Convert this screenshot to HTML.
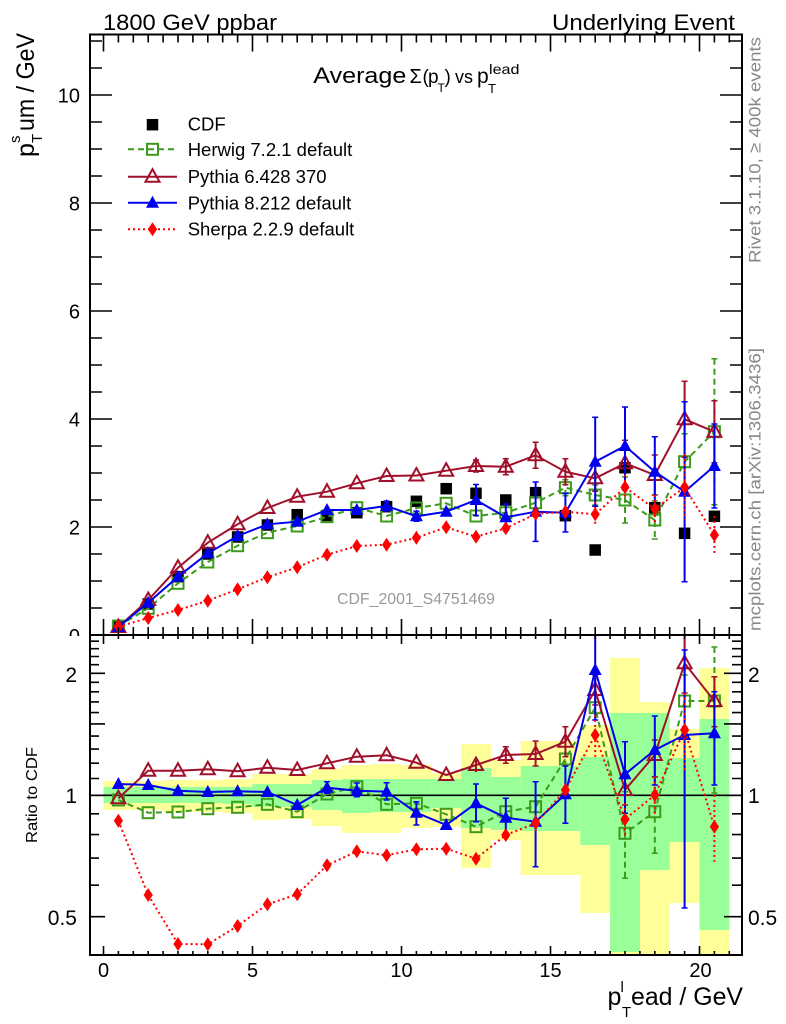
<!DOCTYPE html>
<html><head><meta charset="utf-8"><style>
html,body{margin:0;padding:0;background:#fff;}
svg{display:block;font-family:"Liberation Sans",Arial,Helvetica,sans-serif;}
</style></head><body>
<svg width="786" height="1024" viewBox="0 0 786 1024" xmlns="http://www.w3.org/2000/svg">
<defs>
<g id="mC"><rect x="-5.75" y="-5.75" width="11.5" height="11.5" fill="#000"/></g>
<g id="mH"><rect x="-5.5" y="-5.5" width="11" height="11" fill="none" stroke="#3c9a1c" stroke-width="2"/></g>
<g id="mP6"><polygon points="0,-7.5 7,5 -7,5" fill="none" stroke="#a0102a" stroke-width="2" stroke-linejoin="miter"/></g>
<g id="mP8"><polygon points="0,-7 6.5,5 -6.5,5" fill="#0000ee"/></g>
<g id="mS"><polygon points="0,-7 4.6,0 0,7 -4.6,0" fill="#ff0000"/></g>
<clipPath id="cMain"><rect x="90" y="34.5" width="652" height="600.5"/></clipPath>
<clipPath id="cRat"><rect x="90" y="635" width="652" height="320"/></clipPath>
</defs>
<rect x="0" y="0" width="786" height="1024" fill="#fff"/>

<text x="103" y="30" font-size="22" textLength="174" lengthAdjust="spacingAndGlyphs">1800 GeV ppbar</text>
<text x="552" y="30" font-size="22" textLength="183" lengthAdjust="spacingAndGlyphs">Underlying Event</text>

<g font-size="20" text-anchor="end">
<text x="80" y="102.5">10</text>
<text x="80" y="210.5">8</text>
<text x="80" y="318.5">6</text>
<text x="80" y="426.5">4</text>
<text x="80" y="534.5">2</text>
<text x="80" y="643">0</text>
</g>

<g transform="translate(34,157) rotate(-90)">
<text x="0" y="0" font-size="25">p</text>
<text x="14" y="8" font-size="15">T</text>
<text x="14" y="-14" font-size="15">s</text>
<text x="26" y="0" font-size="25" textLength="98" lengthAdjust="spacingAndGlyphs">um / GeV</text>
</g>

<g fill="#888" font-size="17">
<text transform="translate(760.5,263) rotate(-90)" x="0" y="0" textLength="226" lengthAdjust="spacingAndGlyphs">Rivet 3.1.10, ≥ 400k events</text>
<text transform="translate(760.5,631) rotate(-90)" x="0" y="0" textLength="283" lengthAdjust="spacingAndGlyphs">mcplots.cern.ch [arXiv:1306.3436]</text>
</g>

<text x="313.3" y="83" font-size="22" textLength="93" lengthAdjust="spacingAndGlyphs">Average</text>
<text x="409.5" y="83" font-size="20">Σ</text>
<text x="422.5" y="83" font-size="19">(</text>
<text x="428" y="83" font-size="19">p</text>
<text x="437.5" y="92" font-size="12">T</text>
<text x="444.5" y="83" font-size="19">)</text>
<text x="455" y="83" font-size="18">vs</text>
<text x="477" y="83" font-size="21">p</text>
<text x="488" y="93" font-size="13">T</text>
<text x="489" y="74" font-size="14" textLength="30.5" lengthAdjust="spacingAndGlyphs">lead</text>

<g font-size="18.5">
<text x="187.7" y="130.5">CDF</text>
<text x="187.7" y="156">Herwig 7.2.1 default</text>
<text x="187.7" y="183">Pythia 6.428 370</text>
<text x="187.7" y="209.5">Pythia 8.212 default</text>
<text x="187.7" y="235.5">Sherpa 2.2.9 default</text>
</g>
<use href="#mC" x="152.5" y="124.7"/>
<line x1="128" y1="149.3" x2="177" y2="149.3" stroke="#3c9a1c" stroke-width="2" stroke-dasharray="6,4"/>
<use href="#mH" x="152.5" y="149.3"/>
<line x1="128" y1="176.7" x2="177" y2="176.7" stroke="#a0102a" stroke-width="2"/>
<use href="#mP6" x="152.5" y="176.7"/>
<line x1="128" y1="202.7" x2="177" y2="202.7" stroke="#0000ee" stroke-width="2"/>
<use href="#mP8" x="152.5" y="202.7"/>
<line x1="128" y1="229.3" x2="177" y2="229.3" stroke="#ff0000" stroke-width="2" stroke-dasharray="2,3"/>
<use href="#mS" x="152.5" y="229.3"/>

<text x="337" y="604" font-size="16" fill="#999" textLength="158" lengthAdjust="spacingAndGlyphs">CDF_2001_S4751469</text>

<g clip-path="url(#cMain)">
<g>
<use href="#mC" x="118.4" y="627"/><use href="#mC" x="148.2" y="604"/><use href="#mC" x="178" y="576.7"/><use href="#mC" x="207.8" y="554"/><use href="#mC" x="237.6" y="537"/><use href="#mC" x="267.4" y="525"/><use href="#mC" x="297.2" y="514.7"/><use href="#mC" x="327" y="515.5"/><use href="#mC" x="356.8" y="512.7"/><use href="#mC" x="386.6" y="506.7"/><use href="#mC" x="416.4" y="501.3"/><use href="#mC" x="446.2" y="488.7"/><use href="#mC" x="476" y="493.3"/><use href="#mC" x="505.8" y="500"/><use href="#mC" x="535.6" y="492.7"/><use href="#mC" x="565.4" y="515.7"/><use href="#mC" x="595.2" y="550"/><use href="#mC" x="625" y="467.7"/><use href="#mC" x="654.8" y="507.7"/><use href="#mC" x="684.6" y="533.3"/><use href="#mC" x="714.4" y="516.3"/>
</g>
<g stroke="#3c9a1c" stroke-width="2" fill="none" stroke-dasharray="6,4">
<polyline points="118.4,626 148.2,608.3 178,583.3 207.8,562 237.6,545.7 267.4,532.7 297.2,526 327,516.7 356.8,507.7 386.6,516 416.4,508 446.2,503.3 476,516 505.8,512.7 535.6,502.7 565.4,487.7 595.2,495 625,500 654.8,520 684.6,461.7 714.4,431.7"/>
<path d="M565.4 479.7V495.7M595.2 485V505M625 477V523M654.8 501V539M684.6 433.7V489.7M714.4 358.7V504.7"/>
</g>
<path d="M562.4 479.7h6M562.4 495.7h6M592.2 485h6M592.2 505h6M622 477h6M622 523h6M651.8 501h6M651.8 539h6M681.6 433.7h6M681.6 489.7h6M711.4 358.7h6M711.4 504.7h6" stroke="#3c9a1c" stroke-width="1.5"/>
<g>
<use href="#mH" x="118.4" y="626"/><use href="#mH" x="148.2" y="608.3"/><use href="#mH" x="178" y="583.3"/><use href="#mH" x="207.8" y="562"/><use href="#mH" x="237.6" y="545.7"/><use href="#mH" x="267.4" y="532.7"/><use href="#mH" x="297.2" y="526"/><use href="#mH" x="327" y="516.7"/><use href="#mH" x="356.8" y="507.7"/><use href="#mH" x="386.6" y="516"/><use href="#mH" x="416.4" y="508"/><use href="#mH" x="446.2" y="503.3"/><use href="#mH" x="476" y="516"/><use href="#mH" x="505.8" y="512.7"/><use href="#mH" x="535.6" y="502.7"/><use href="#mH" x="565.4" y="487.7"/><use href="#mH" x="595.2" y="495"/><use href="#mH" x="625" y="500"/><use href="#mH" x="654.8" y="520"/><use href="#mH" x="684.6" y="461.7"/><use href="#mH" x="714.4" y="431.7"/>
</g>
<g stroke="#a0102a" stroke-width="2" fill="none">
<polyline points="118.4,627 148.2,600 178,567.7 207.8,542.7 237.6,524.3 267.4,508 297.2,496.7 327,491.7 356.8,483.3 386.6,476 416.4,475.5 446.2,470.7 476,466 505.8,466.7 535.6,455.3 565.4,471.7 595.2,478.3 625,463.3 654.8,475 684.6,419.3 714.4,431.7"/>
<path d="M476 460V472M505.8 458.7V474.7M535.6 442.3V468.3M565.4 458.7V484.7M595.2 465.3V491.3M625 440.3V486.3M654.8 455V495M684.6 381.3V457.3M714.4 400.7V462.7" />
<path stroke-width="1.5" d="M473 460h6M473 472h6M502.8 458.7h6M502.8 474.7h6M532.6 442.3h6M532.6 468.3h6M562.4 458.7h6M562.4 484.7h6M592.2 465.3h6M592.2 491.3h6M622 440.3h6M622 486.3h6M651.8 455h6M651.8 495h6M681.6 381.3h6M681.6 457.3h6M711.4 400.7h6M711.4 462.7h6"/>
</g>
<g>
<use href="#mP6" x="118.4" y="627"/><use href="#mP6" x="148.2" y="600"/><use href="#mP6" x="178" y="567.7"/><use href="#mP6" x="207.8" y="542.7"/><use href="#mP6" x="237.6" y="524.3"/><use href="#mP6" x="267.4" y="508"/><use href="#mP6" x="297.2" y="496.7"/><use href="#mP6" x="327" y="491.7"/><use href="#mP6" x="356.8" y="483.3"/><use href="#mP6" x="386.6" y="476"/><use href="#mP6" x="416.4" y="475.5"/><use href="#mP6" x="446.2" y="470.7"/><use href="#mP6" x="476" y="466"/><use href="#mP6" x="505.8" y="466.7"/><use href="#mP6" x="535.6" y="455.3"/><use href="#mP6" x="565.4" y="471.7"/><use href="#mP6" x="595.2" y="478.3"/><use href="#mP6" x="625" y="463.3"/><use href="#mP6" x="654.8" y="475"/><use href="#mP6" x="684.6" y="419.3"/><use href="#mP6" x="714.4" y="431.7"/>
</g>
<g stroke="#0000ee" stroke-width="2" fill="none">
<polyline points="118.4,627 148.2,602.7 178,576.7 207.8,553.3 237.6,536 267.4,524.3 297.2,521.7 327,510 356.8,510 386.6,506 416.4,516.3 446.2,511.7 476,500 505.8,517.3 535.6,511.7 565.4,512.7 595.2,461.7 625,446 654.8,471.7 684.6,491.7 714.4,466"/>
<path d="M386.6 501V511M416.4 511.3V521.3M476 484.5V515.5M505.8 504V530.6M535.6 482V541.4M565.4 493.4V532M595.2 417.2V506.2M625 407V485M654.8 436.7V506.7M684.6 401.7V581.7M714.4 424V508"/>
<path stroke-width="1.5" d="M383.6 501h6M383.6 511h6M413.4 511.3h6M413.4 521.3h6M473 484.5h6M473 515.5h6M502.8 504h6M502.8 530.6h6M532.6 482h6M532.6 541.4h6M562.4 493.4h6M562.4 532h6M592.2 417.2h6M592.2 506.2h6M622 407h6M622 485h6M651.8 436.7h6M651.8 506.7h6M681.6 401.7h6M681.6 581.7h6M711.4 424h6M711.4 508h6"/>
</g>
<g>
<use href="#mP8" x="118.4" y="627"/><use href="#mP8" x="148.2" y="602.7"/><use href="#mP8" x="178" y="576.7"/><use href="#mP8" x="207.8" y="553.3"/><use href="#mP8" x="237.6" y="536"/><use href="#mP8" x="267.4" y="524.3"/><use href="#mP8" x="297.2" y="521.7"/><use href="#mP8" x="327" y="510"/><use href="#mP8" x="356.8" y="510"/><use href="#mP8" x="386.6" y="506"/><use href="#mP8" x="416.4" y="516.3"/><use href="#mP8" x="446.2" y="511.7"/><use href="#mP8" x="476" y="500"/><use href="#mP8" x="505.8" y="517.3"/><use href="#mP8" x="535.6" y="511.7"/><use href="#mP8" x="565.4" y="512.7"/><use href="#mP8" x="595.2" y="461.7"/><use href="#mP8" x="625" y="446"/><use href="#mP8" x="654.8" y="471.7"/><use href="#mP8" x="684.6" y="491.7"/><use href="#mP8" x="714.4" y="466"/>
</g>
<g stroke="#ff0000" stroke-width="2" fill="none" stroke-dasharray="2,3">
<polyline points="118.4,626.7 148.2,618 178,610 207.8,600.7 237.6,589.3 267.4,577.3 297.2,567.3 327,554.7 356.8,546 386.6,544.7 416.4,537.8 446.2,527.3 476,536.7 505.8,528.3 535.6,514 565.4,511.7 595.2,514.3 625,487.3 654.8,509 684.6,487.3 714.4,535"/>
<path d="M535.6 507V521M565.4 505.7V517.7M595.2 501.8V526.8M625 474.8V499.8M654.8 495V523M684.6 454.3V520.3M714.4 516V554"/>
</g>
<g>
<use href="#mS" x="118.4" y="626.7"/><use href="#mS" x="148.2" y="618"/><use href="#mS" x="178" y="610"/><use href="#mS" x="207.8" y="600.7"/><use href="#mS" x="237.6" y="589.3"/><use href="#mS" x="267.4" y="577.3"/><use href="#mS" x="297.2" y="567.3"/><use href="#mS" x="327" y="554.7"/><use href="#mS" x="356.8" y="546"/><use href="#mS" x="386.6" y="544.7"/><use href="#mS" x="416.4" y="537.8"/><use href="#mS" x="446.2" y="527.3"/><use href="#mS" x="476" y="536.7"/><use href="#mS" x="505.8" y="528.3"/><use href="#mS" x="535.6" y="514"/><use href="#mS" x="565.4" y="511.7"/><use href="#mS" x="595.2" y="514.3"/><use href="#mS" x="625" y="487.3"/><use href="#mS" x="654.8" y="509"/><use href="#mS" x="684.6" y="487.3"/><use href="#mS" x="714.4" y="535"/>
</g>
</g>

<rect x="0" y="636" width="786" height="388" fill="#fff"/>

<g clip-path="url(#cRat)">
<g fill="#ffff99">
<rect x="103.5" y="781" width="29.8" height="29"/>
<rect x="133.3" y="781" width="29.8" height="29"/>
<rect x="163.1" y="780" width="29.8" height="32"/>
<rect x="192.9" y="780" width="29.8" height="32"/>
<rect x="222.7" y="779" width="29.8" height="34"/>
<rect x="252.5" y="774" width="29.8" height="46"/>
<rect x="282.3" y="774" width="29.8" height="45"/>
<rect x="312.1" y="769" width="29.8" height="57"/>
<rect x="341.9" y="765" width="29.8" height="68"/>
<rect x="371.7" y="764" width="29.8" height="69"/>
<rect x="401.5" y="765" width="29.8" height="63"/>
<rect x="431.3" y="773" width="29.8" height="54"/>
<rect x="461.1" y="744" width="29.8" height="124"/>
<rect x="490.9" y="760" width="29.8" height="80"/>
<rect x="520.7" y="741" width="29.8" height="134"/>
<rect x="550.5" y="741" width="29.8" height="134"/>
<rect x="580.3" y="725" width="29.8" height="188"/>
<rect x="610.1" y="658" width="29.8" height="297"/>
<rect x="639.9" y="702" width="29.8" height="253"/>
<rect x="669.7" y="729" width="29.8" height="174"/>
<rect x="699.5" y="668" width="29.8" height="287"/>
</g>
<g fill="#99ff99">
<rect x="103.5" y="787" width="29.8" height="16"/>
<rect x="133.3" y="787" width="29.8" height="16"/>
<rect x="163.1" y="787" width="29.8" height="16"/>
<rect x="192.9" y="787" width="29.8" height="16"/>
<rect x="222.7" y="787" width="29.8" height="17"/>
<rect x="252.5" y="784" width="29.8" height="23"/>
<rect x="282.3" y="784" width="29.8" height="23"/>
<rect x="312.1" y="780" width="29.8" height="30"/>
<rect x="341.9" y="779" width="29.8" height="34"/>
<rect x="371.7" y="779" width="29.8" height="33"/>
<rect x="401.5" y="779" width="29.8" height="33"/>
<rect x="431.3" y="779" width="29.8" height="29"/>
<rect x="461.1" y="768" width="29.8" height="60"/>
<rect x="490.9" y="777" width="29.8" height="53"/>
<rect x="520.7" y="766" width="29.8" height="65"/>
<rect x="550.5" y="766" width="29.8" height="65"/>
<rect x="580.3" y="757" width="29.8" height="88"/>
<rect x="610.1" y="713" width="29.8" height="239"/>
<rect x="639.9" y="713" width="29.8" height="157"/>
<rect x="669.7" y="758" width="29.8" height="84"/>
<rect x="699.5" y="719" width="29.8" height="211"/>
</g>
<line x1="90" y1="795.3" x2="742" y2="795.3" stroke="#000" stroke-width="1.6"/>

<g stroke="#3c9a1c" stroke-width="2" fill="none" stroke-dasharray="6,4">
<polyline points="118.4,800 148.2,812.7 178,812 207.8,808.7 237.6,807.3 267.4,804.3 297.2,811.7 327,794 356.8,786.7 386.6,804.3 416.4,803.3 446.2,814.3 476,826.7 505.8,811.7 535.6,806.7 565.4,759 595.2,707.7 625,833.3 654.8,811.7 684.6,701 714.4,701"/>
<path d="M565.4 751V767M595.2 697V718M625 791.7V878.3M654.8 776.7V853.3M684.6 675V727M714.4 647V793"/>
</g>
<path d="M622 791.7h6M622 878.3h6M651.8 776.7h6M651.8 853.3h6M681.6 675h6M681.6 727h6M711.4 647h6M711.4 793h6" stroke="#3c9a1c" stroke-width="1.5"/>
<g>
<use href="#mH" x="118.4" y="800"/><use href="#mH" x="148.2" y="812.7"/><use href="#mH" x="178" y="812"/><use href="#mH" x="207.8" y="808.7"/><use href="#mH" x="237.6" y="807.3"/><use href="#mH" x="267.4" y="804.3"/><use href="#mH" x="297.2" y="811.7"/><use href="#mH" x="327" y="794"/><use href="#mH" x="356.8" y="786.7"/><use href="#mH" x="386.6" y="804.3"/><use href="#mH" x="416.4" y="803.3"/><use href="#mH" x="446.2" y="814.3"/><use href="#mH" x="476" y="826.7"/><use href="#mH" x="505.8" y="811.7"/><use href="#mH" x="535.6" y="806.7"/><use href="#mH" x="565.4" y="759"/><use href="#mH" x="595.2" y="707.7"/><use href="#mH" x="625" y="833.3"/><use href="#mH" x="654.8" y="811.7"/><use href="#mH" x="684.6" y="701"/><use href="#mH" x="714.4" y="701"/>
</g>
<g stroke="#a0102a" stroke-width="2" fill="none">
<polyline points="118.4,798.3 148.2,770.7 178,770.7 207.8,769.3 237.6,771.3 267.4,767.7 297.2,770 327,763.3 356.8,756.7 386.6,755.3 416.4,762.7 446.2,775 476,765 505.8,755 535.6,754 565.4,741.7 595.2,690 625,790 654.8,755 684.6,663.3 714.4,701"/>
<path d="M476 758V772M505.8 746.7V763.3M535.6 741V766M565.4 726.7V756.7M595.2 675V705M625 775V805M654.8 740V777M684.6 630V693M714.4 676.7V726.7"/>
<path stroke-width="1.5" d="M502.8 746.7h6M502.8 763.3h6M532.6 741h6M532.6 766h6M562.4 726.7h6M562.4 756.7h6M592.2 675h6M592.2 705h6M622 775h6M622 805h6M651.8 740h6M651.8 777h6M681.6 693h6M711.4 676.7h6M711.4 726.7h6"/>
</g>
<g>
<use href="#mP6" x="118.4" y="798.3"/><use href="#mP6" x="148.2" y="770.7"/><use href="#mP6" x="178" y="770.7"/><use href="#mP6" x="207.8" y="769.3"/><use href="#mP6" x="237.6" y="771.3"/><use href="#mP6" x="267.4" y="767.7"/><use href="#mP6" x="297.2" y="770"/><use href="#mP6" x="327" y="763.3"/><use href="#mP6" x="356.8" y="756.7"/><use href="#mP6" x="386.6" y="755.3"/><use href="#mP6" x="416.4" y="762.7"/><use href="#mP6" x="446.2" y="775"/><use href="#mP6" x="476" y="765"/><use href="#mP6" x="505.8" y="755"/><use href="#mP6" x="535.6" y="754"/><use href="#mP6" x="565.4" y="741.7"/><use href="#mP6" x="595.2" y="690"/><use href="#mP6" x="625" y="790"/><use href="#mP6" x="654.8" y="755"/><use href="#mP6" x="684.6" y="663.3"/><use href="#mP6" x="714.4" y="701"/>
</g>
<g stroke="#0000ee" stroke-width="2" fill="none">
<polyline points="118.4,784 148.2,785 178,790.7 207.8,792 237.6,791.3 267.4,792 297.2,805 327,787.7 356.8,790.7 386.6,791.7 416.4,812.7 446.2,825 476,803.3 505.8,817.7 535.6,821.7 565.4,794.3 595.2,670 625,774.3 654.8,750 684.6,735 714.4,733.3"/>
<path d="M327 781.7V793.3M356.8 783V796.7M386.6 782.7V800M416.4 801.7V825M476 784V821.7M505.8 798.3V836.7M535.6 781.7V866.7M565.4 766V823.3M595.2 620V720M625 741.7V813.3M654.8 716V785M684.6 650V908M714.4 691.7V785"/>
<path stroke-width="1.5" d="M324 781.7h6M324 793.3h6M353.8 783h6M353.8 796.7h6M383.6 782.7h6M383.6 800h6M413.4 801.7h6M413.4 825h6M473 784h6M473 821.7h6M502.8 798.3h6M502.8 836.7h6M532.6 781.7h6M532.6 866.7h6M562.4 766h6M562.4 823.3h6M592.2 720h6M622 741.7h6M622 813.3h6M651.8 716h6M651.8 785h6M681.6 650h6M681.6 908h6M711.4 691.7h6M711.4 785h6"/>
</g>
<g>
<use href="#mP8" x="118.4" y="784"/><use href="#mP8" x="148.2" y="785"/><use href="#mP8" x="178" y="790.7"/><use href="#mP8" x="207.8" y="792"/><use href="#mP8" x="237.6" y="791.3"/><use href="#mP8" x="267.4" y="792"/><use href="#mP8" x="297.2" y="805"/><use href="#mP8" x="327" y="787.7"/><use href="#mP8" x="356.8" y="790.7"/><use href="#mP8" x="386.6" y="791.7"/><use href="#mP8" x="416.4" y="812.7"/><use href="#mP8" x="446.2" y="825"/><use href="#mP8" x="476" y="803.3"/><use href="#mP8" x="505.8" y="817.7"/><use href="#mP8" x="535.6" y="821.7"/><use href="#mP8" x="565.4" y="794.3"/><use href="#mP8" x="595.2" y="670"/><use href="#mP8" x="625" y="774.3"/><use href="#mP8" x="654.8" y="750"/><use href="#mP8" x="684.6" y="735"/><use href="#mP8" x="714.4" y="733.3"/>
</g>
<g stroke="#ff0000" stroke-width="2" fill="none" stroke-dasharray="2,3">
<polyline points="118.4,820.7 148.2,895 178,944 207.8,944.3 237.6,926 267.4,904.3 297.2,894.3 327,865.3 356.8,851.3 386.6,855.3 416.4,849.3 446.2,848.7 476,858.7 505.8,835 535.6,823.3 565.4,790 595.2,735 625,819.3 654.8,795 684.6,730 714.4,826.7"/>
<path d="M535.6 815V831M595.2 715V756.7M625 803.3V836.7M654.8 776.7V815M684.6 693V770M714.4 795V861.7"/>
</g>
<g>
<use href="#mS" x="118.4" y="820.7"/><use href="#mS" x="148.2" y="895"/><use href="#mS" x="178" y="944"/><use href="#mS" x="207.8" y="944.3"/><use href="#mS" x="237.6" y="926"/><use href="#mS" x="267.4" y="904.3"/><use href="#mS" x="297.2" y="894.3"/><use href="#mS" x="327" y="865.3"/><use href="#mS" x="356.8" y="851.3"/><use href="#mS" x="386.6" y="855.3"/><use href="#mS" x="416.4" y="849.3"/><use href="#mS" x="446.2" y="848.7"/><use href="#mS" x="476" y="858.7"/><use href="#mS" x="505.8" y="835"/><use href="#mS" x="535.6" y="823.3"/><use href="#mS" x="565.4" y="790"/><use href="#mS" x="595.2" y="735"/><use href="#mS" x="625" y="819.3"/><use href="#mS" x="654.8" y="795"/><use href="#mS" x="684.6" y="730"/><use href="#mS" x="714.4" y="826.7"/>
</g>
</g>

<rect x="90" y="34.5" width="652" height="600.5" fill="none" stroke="#000" stroke-width="2"/>
<rect x="90" y="635" width="652" height="320" fill="none" stroke="#000" stroke-width="2"/>

<g stroke="#000" stroke-width="1.6" fill="none">
<path d="M90 608h12M90 581h12M90 554h12M90 500h12M90 473h12M90 446h12M90 392h12M90 365h12M90 338h12M90 284h12M90 257h12M90 230h12M90 176h12M90 149h12M90 122h12M90 68h12M90 41h12M90 527h22M90 419h22M90 311h22M90 203h22M90 95h22"/>
<path d="M742 608h-12M742 581h-12M742 554h-12M742 500h-12M742 473h-12M742 446h-12M742 392h-12M742 365h-12M742 338h-12M742 284h-12M742 257h-12M742 230h-12M742 176h-12M742 149h-12M742 122h-12M742 68h-12M742 41h-12M742 527h-22M742 419h-22M742 311h-22M742 203h-22M742 95h-22"/>
<path d="M118.4 635v-8M133.3 635v-8M148.2 635v-8M163.1 635v-8M178 635v-8M192.9 635v-8M207.8 635v-8M222.7 635v-8M237.6 635v-8M267.4 635v-8M282.3 635v-8M297.2 635v-8M312.1 635v-8M327 635v-8M341.9 635v-8M356.8 635v-8M371.7 635v-8M386.6 635v-8M416.4 635v-8M431.3 635v-8M446.2 635v-8M461.1 635v-8M476 635v-8M490.9 635v-8M505.8 635v-8M520.7 635v-8M535.6 635v-8M565.4 635v-8M580.3 635v-8M595.2 635v-8M610.1 635v-8M625 635v-8M639.9 635v-8M654.8 635v-8M669.7 635v-8M684.6 635v-8M714.4 635v-8M729.3 635v-8M103.5 635v-16M252.5 635v-16M401.5 635v-16M550.5 635v-16M699.5 635v-16"/>
<path d="M118.4 34.5v8M133.3 34.5v8M148.2 34.5v8M163.1 34.5v8M178 34.5v8M192.9 34.5v8M207.8 34.5v8M222.7 34.5v8M237.6 34.5v8M267.4 34.5v8M282.3 34.5v8M297.2 34.5v8M312.1 34.5v8M327 34.5v8M341.9 34.5v8M356.8 34.5v8M371.7 34.5v8M386.6 34.5v8M416.4 34.5v8M431.3 34.5v8M446.2 34.5v8M461.1 34.5v8M476 34.5v8M490.9 34.5v8M505.8 34.5v8M520.7 34.5v8M535.6 34.5v8M565.4 34.5v8M580.3 34.5v8M595.2 34.5v8M610.1 34.5v8M625 34.5v8M639.9 34.5v8M654.8 34.5v8M669.7 34.5v8M684.6 34.5v8M714.4 34.5v8M729.3 34.5v8M103.5 34.5v17M252.5 34.5v17M401.5 34.5v17M550.5 34.5v17M699.5 34.5v17"/>
<path d="M118.4 635v4M133.3 635v4M148.2 635v4M163.1 635v4M178 635v4M192.9 635v4M207.8 635v4M222.7 635v4M237.6 635v4M267.4 635v4M282.3 635v4M297.2 635v4M312.1 635v4M327 635v4M341.9 635v4M356.8 635v4M371.7 635v4M386.6 635v4M416.4 635v4M431.3 635v4M446.2 635v4M461.1 635v4M476 635v4M490.9 635v4M505.8 635v4M520.7 635v4M535.6 635v4M565.4 635v4M580.3 635v4M595.2 635v4M610.1 635v4M625 635v4M639.9 635v4M654.8 635v4M669.7 635v4M684.6 635v4M714.4 635v4M729.3 635v4M103.5 635v9M252.5 635v9M401.5 635v9M550.5 635v9M699.5 635v9"/>
<path d="M118.4 955v-4M133.3 955v-4M148.2 955v-4M163.1 955v-4M178 955v-4M192.9 955v-4M207.8 955v-4M222.7 955v-4M237.6 955v-4M267.4 955v-4M282.3 955v-4M297.2 955v-4M312.1 955v-4M327 955v-4M341.9 955v-4M356.8 955v-4M371.7 955v-4M386.6 955v-4M416.4 955v-4M431.3 955v-4M446.2 955v-4M461.1 955v-4M476 955v-4M490.9 955v-4M505.8 955v-4M520.7 955v-4M535.6 955v-4M565.4 955v-4M580.3 955v-4M595.2 955v-4M610.1 955v-4M625 955v-4M639.9 955v-4M654.8 955v-4M669.7 955v-4M684.6 955v-4M714.4 955v-4M729.3 955v-4M103.5 955v-9M252.5 955v-9M401.5 955v-9M550.5 955v-9M699.5 955v-9"/>
<path d="M90 885.2h9M90 858.1h9M90 834.6h9M90 813.8h9M90 778.5h9M90 763.2h9M90 749.1h9M90 736.1h9M90 712.6h9M90 701.9h9M90 691.8h9M90 682.3h9M90 664.7h9M90 656.5h9M90 648.7h9M90 641.2h9M90 916.7h15M90 795.3h15M90 673.3h15M90 723.9h15"/>
<path d="M742 885.2h-10M742 858.1h-10M742 834.6h-10M742 813.8h-10M742 778.5h-10M742 763.2h-10M742 749.1h-10M742 736.1h-10M742 712.6h-10M742 701.9h-10M742 691.8h-10M742 682.3h-10M742 664.7h-10M742 656.5h-10M742 648.7h-10M742 641.2h-10M742 916.7h-18M742 795.3h-18M742 673.3h-18M742 723.9h-18"/>
</g>

<g font-size="21">
<text x="77" y="682" text-anchor="end">2</text>
<text x="77" y="803" text-anchor="end">1</text>
<text x="77" y="925" text-anchor="end">0.5</text>
<text x="748" y="682">2</text>
<text x="748" y="803">1</text>
<text x="748" y="925">0.5</text>
</g>
<text transform="translate(37,795) rotate(-90)" x="0" y="0" font-size="16" text-anchor="middle" textLength="96" lengthAdjust="spacingAndGlyphs">Ratio to CDF</text>

<g font-size="20" text-anchor="middle">
<text x="103.5" y="977">0</text>
<text x="252.5" y="977">5</text>
<text x="401.5" y="977">10</text>
<text x="550.5" y="977">15</text>
<text x="700.5" y="977">20</text>
</g>

<text x="607.5" y="1005" font-size="25">p</text>
<text x="620.5" y="992" font-size="15">l</text>
<text x="622" y="1017" font-size="15">T</text>
<text x="631" y="1005" font-size="25" textLength="112" lengthAdjust="spacingAndGlyphs">ead / GeV</text>
</svg>
</body></html>
